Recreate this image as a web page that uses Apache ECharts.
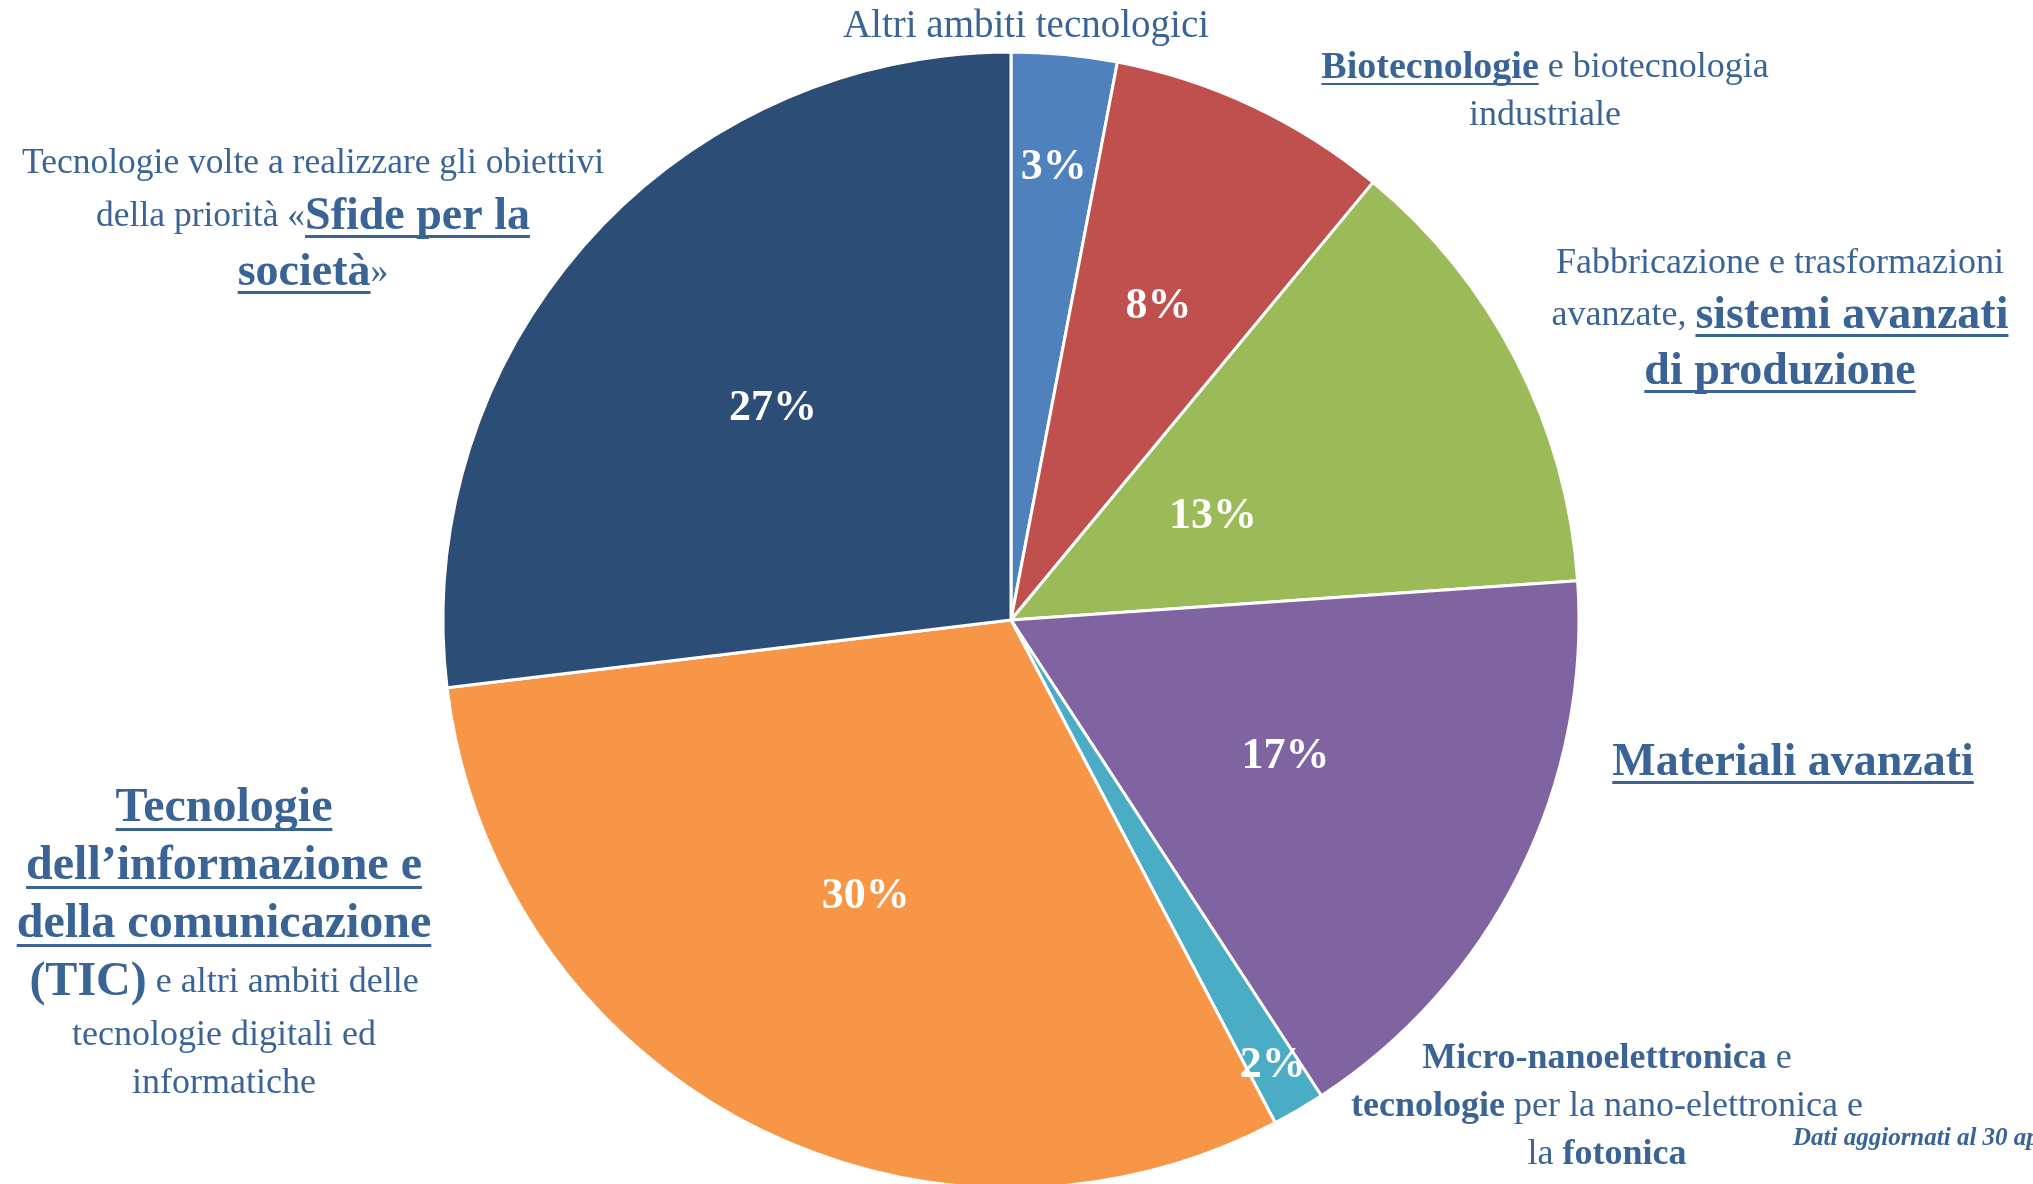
<!DOCTYPE html>
<html>
<head>
<meta charset="utf-8">
<script src="https://cdn.jsdelivr.net/npm/echarts@6/dist/echarts.min.js"></script>
<style>
  html, body { margin: 0; padding: 0; background: #fff; }
  #diagram { width: 2033px; height: 1184px; }
</style>
</head>
<body>
<div id="diagram"></div>
<script>
// dati del grafico
var categories = ['Altri ambiti tecnologici', 'Biotecnologie', 'Fabbricazione e trasformazioni avanzate',
  'Materiali avanzati', 'Micro-nanoelettronica', 'TIC', 'Sfide per la società'];
var values = [3.0, 8.0, 12.9, 16.9, 1.5, 30.8, 26.9];
var percentLabels = ['3%', '8%', '13%', '17%', '2%', '30%', '27%'];
var colors = ['#4F81BD', '#C0504D', '#9BBB59', '#8064A2', '#4BACC6', '#F79646', '#2C4D75'];
// posizione radiale delle etichette percentuali (frazione del raggio)
var labelRadius = [0.80, 0.61, 0.40, 0.54, 0.91, 0.55, 0.56];

var F = 'Liberation Serif';
var ink = '#3A6496';
var CX = 1011, CY = 620, R = 568;

var total = values.reduce(function (a, b) { return a + b; }, 0);
var acc = 0;
var mids = values.map(function (v) {
  var m = (acc + v / 2) / total * 2 * Math.PI;
  acc += v;
  return m;
});

function underline() {
  var t = 'rgba(0,0,0,0)';
  return new echarts.graphic.LinearGradient(0, 0, 0, 1, [
    { offset: 0, color: t }, { offset: 0.9, color: t },
    { offset: 0.9, color: ink }, { offset: 0.95, color: ink },
    { offset: 0.95, color: t }, { offset: 1, color: t }
  ]);
}

var rich = {
  s: { fontFamily: F, fontSize: 35.5, color: ink, lineHeight: 50 },
  r: { fontFamily: F, fontSize: 36, color: ink, lineHeight: 48 },
  a: { fontFamily: F, fontSize: 39, color: ink, lineHeight: 48 },
  b: { fontFamily: F, fontSize: 36, fontWeight: 'bold', color: ink, lineHeight: 48 },
  bu: { fontFamily: F, fontSize: 38, fontWeight: 'bold', color: ink, lineHeight: 48, backgroundColor: underline() },
  B: { fontFamily: F, fontSize: 48, fontWeight: 'bold', color: ink, lineHeight: 58 },
  BU: { fontFamily: F, fontSize: 46, fontWeight: 'bold', color: ink, lineHeight: 56, backgroundColor: underline() },
  TU: { fontFamily: F, fontSize: 48, fontWeight: 'bold', color: ink, lineHeight: 58, backgroundColor: underline() }
};

function note(x, y, text) {
  return {
    type: 'text', x: x, y: y, silent: true,
    style: { text: text, rich: rich, align: 'center', verticalAlign: 'middle', fill: ink }
  };
}

var myChart = echarts.init(document.getElementById('diagram'));

var option = {
  backgroundColor: '#fff',
  animation: false,
  color: colors,
  series: [{
    type: 'pie',
    center: [CX, CY],
    radius: R,
    startAngle: 90,
    clockwise: true,
    avoidLabelOverlap: false,
    itemStyle: { borderColor: '#fff', borderWidth: 3 },
    label: {
      show: true,
      position: 'inside',
      formatter: function (p) { return percentLabels[p.dataIndex]; },
      color: '#fff',
      fontFamily: F,
      fontWeight: 'bold',
      fontSize: 44
    },
    labelLine: { show: false },
    labelLayout: function (p) {
      var i = p.dataIndex;
      var rr = R * labelRadius[i];
      return {
        x: CX + rr * Math.sin(mids[i]),
        y: CY - rr * Math.cos(mids[i]),
        align: 'center',
        verticalAlign: 'middle'
      };
    },
    emphasis: { disabled: true },
    data: categories.map(function (c, i) { return { name: c, value: values[i] }; })
  }],
  graphic: [
    note(1026, 27, '{a|Altri ambiti tecnologici}'),
    note(1545, 92, '{bu|Biotecnologie}{r| e biotecnologia}\n{r|industriale}'),
    note(313, 220, '{s|Tecnologie volte a realizzare gli obiettivi}\n{s|della priorità «}{BU|Sfide per la}\n{BU|società}{s|»}'),
    note(1780, 320, '{r|Fabbricazione e trasformazioni}\n{r|avanzate, }{BU|sistemi avanzati}\n{BU|di produzione}'),
    note(1793, 763, '{BU|Materiali avanzati}'),
    note(224, 944, '{TU|Tecnologie}\n{TU|dell’informazione e}\n{TU|della comunicazione}\n{B|(TIC)}{r| e altri ambiti delle}\n{r|tecnologie digitali ed}\n{r|informatiche}'),
    note(1607, 1107, '{b|Micro-nanoelettronica}{r| e}\n{b|tecnologie}{r| per la nano-elettronica e}\n{r|la }{b|fotonica}'),
    {
      type: 'text', x: 1793, y: 1139, silent: true,
      style: {
        text: 'Dati aggiornati al 30 aprile', fill: ink, align: 'left', verticalAlign: 'middle',
        font: 'italic bold 25px "Liberation Serif"'
      }
    }
  ]
};

myChart.setOption(option);
</script>
</body>
</html>
